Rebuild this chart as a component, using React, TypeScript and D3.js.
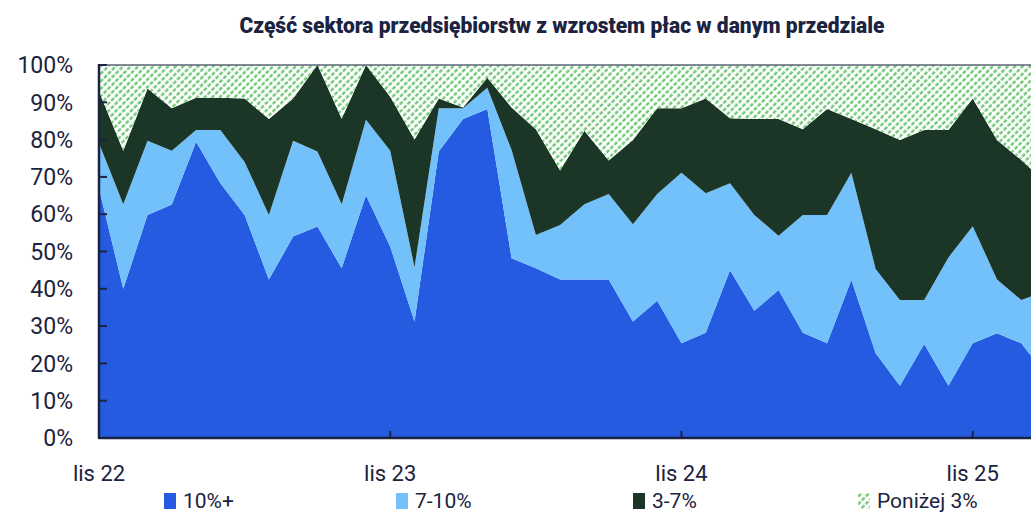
import { useEffect, useRef } from "react";
import * as d3 from "d3";

// Months, Nov 2022 - Feb 2026 (the last one is cut by the right edge)
const months = [
  "lis 22", "gru 22", "sty 23", "lut 23", "mar 23", "kwi 23", "maj 23", "cze 23", "lip 23", "sie 23", "wrz 23", "paź 23",
  "lis 23", "gru 23", "sty 24", "lut 24", "mar 24", "kwi 24", "maj 24", "cze 24", "lip 24", "sie 24", "wrz 24", "paź 24",
  "lis 24", "gru 24", "sty 25", "lut 25", "mar 25", "kwi 25", "maj 25", "cze 25", "lip 25", "sie 25", "wrz 25", "paź 25",
  "lis 25", "gru 25", "sty 26", "lut 26",
];

// Share of firms (%) in each wage-growth band
const above10 = [
  66.9, 40, 59.8, 62.6, 79.4, 68.3, 59.8, 42.5, 54, 56.7, 45.5, 65.1,
  51.3, 31.2, 76.8, 85.5, 88.2, 48.2, 45.5, 42.5, 42.5, 42.5, 31.2, 36.8,
  25.4, 28.2, 45, 34.1, 39.7, 28.2, 25.4, 42.4, 22.7, 14, 25.2, 14,
  25.4, 28.1, 25.4, 17,
];
const from7to10 = [
  12.1, 22.7, 19.9, 14.4, 3.2, 14.3, 14.2, 17.3, 25.7, 20.1, 17.2, 20.2,
  25.7, 14.6, 11.6, 2.9, 5.7, 29, 8.9, 14.6, 20.2, 22.9, 26.1, 28.6,
  45.7, 37.4, 23.3, 25.7, 14.5, 31.6, 34.4, 28.7, 22.6, 23, 11.8, 34.4,
  31.4, 14.4, 11.6, 22.3,
];
const from3to7 = [
  13.9, 14.3, 14, 11.4, 8.6, 8.6, 17, 25.7, 11.3, 23.3, 22.9, 14.7,
  14.5, 34.2, 2.6, 0.2, 2.7, 11.4, 28.4, 14.6, 19.7, 9, 22.6, 23,
  17.3, 25.4, 17.4, 25.7, 31.3, 23, 28.4, 14.4, 37.5, 42.9, 45.6, 34.2,
  34.2, 37.4, 37.5, 29.2,
];
const below3 = [
  7.1, 23, 6.3, 11.6, 8.8, 8.8, 9, 14.5, 9, 0, 14.4, 0,
  8.5, 20, 9, 11.4, 3.4, 11.4, 17.2, 28.3, 17.6, 25.6, 20.1, 11.6,
  11.6, 9, 14.3, 14.5, 14.5, 17.2, 11.8, 14.5, 17.2, 20.1, 17.4, 17.4,
  9, 20.1, 25.5, 31.5,
];

const seriesNames = ["10%+", "7-10%", "3-7%", "Poniżej 3%"];
const yTicks = [0, 10, 20, 30, 40, 50, 60, 70, 80, 90, 100];
const xTickLabels = ["lis 22", "lis 23", "lis 24", "lis 25"];

const W = 1031;
const H = 514;
const ink = "#1b2340";
const colors = ["#245be0", "#73c1fa", "#1b3626", "url(#hatch)"];

export default function App() {
  const svgRef = useRef<SVGSVGElement>(null);

  useEffect(() => {
    const svg = d3.select(svgRef.current);
    svg.selectAll("*").remove();

    const left = 99, top = 65, bottom = 438;
    const step = 24.27;

    const x = d3.scaleLinear().domain([0, months.length - 1]).range([left, left + step * (months.length - 1)]);
    const y = d3.scaleLinear().domain([0, 100]).range([bottom, top]);

    const rows = months.map((m, i) => ({
      i,
      "10%+": above10[i],
      "7-10%": from7to10[i],
      "3-7%": from3to7[i],
      "Poniżej 3%": below3[i],
    }));
    const stacked = d3.stack<any>().keys(seriesNames)(rows);

    // hatch pattern for the lowest band
    const defs = svg.append("defs");
    const pat = defs.append("pattern")
      .attr("id", "hatch")
      .attr("patternUnits", "userSpaceOnUse")
      .attr("width", 5.3)
      .attr("height", 5.6)
      .attr("patternTransform", "rotate(45)");
    pat.append("rect").attr("width", 5.3).attr("height", 5.6).attr("fill", "#fff");
    pat.append("line")
      .attr("x1", 1.5).attr("x2", 1.5).attr("y1", 0).attr("y2", 5.6)
      .attr("stroke", "#72c978")
      .attr("stroke-width", 2.4)
      .attr("stroke-dasharray", "4 1.6");

    const area = d3.area<any>()
      .x(d => x(d.data.i))
      .y0(d => y(d[0]))
      .y1(d => y(Math.min(100, d[1])));

    // the hatched band always fills up to 100%
    svg.append("g").selectAll("path")
      .data(stacked)
      .enter().append("path")
      .attr("d", (s, k) => k === 3
        ? d3.area<any>().x(d => x(d.data.i)).y0(d => y(d[0])).y1(y(100))(s)
        : area(s))
      .attr("fill", (s, k) => colors[k]);

    // top line
    svg.append("line")
      .attr("x1", left).attr("x2", W).attr("y1", top).attr("y2", top)
      .attr("stroke", "#5d6378").attr("stroke-width", 1.5);

    // y axis
    svg.append("line")
      .attr("x1", left).attr("x2", left).attr("y1", top - 1).attr("y2", bottom + 1)
      .attr("stroke", ink).attr("stroke-width", 2.5);
    const yg = svg.append("g");
    yg.selectAll("line").data(yTicks).enter().append("line")
      .attr("x1", left).attr("x2", left + 8)
      .attr("y1", d => y(d)).attr("y2", d => y(d))
      .attr("stroke", ink).attr("stroke-width", 2);
    yg.selectAll("text").data(yTicks).enter().append("text")
      .attr("x", 73).attr("y", d => y(d)).attr("dy", "0.36em")
      .attr("text-anchor", "end")
      .attr("font-family", "Roboto").attr("font-size", 23)
      .attr("fill", ink)
      .text(d => d + "%");

    // x axis
    svg.append("line")
      .attr("x1", left).attr("x2", W).attr("y1", bottom).attr("y2", bottom)
      .attr("stroke", ink).attr("stroke-width", 2.5);
    const xg = svg.append("g");
    const xTicks = xTickLabels.map(l => months.indexOf(l));
    xg.selectAll("line").data(xTicks).enter().append("line")
      .attr("x1", d => x(d)).attr("x2", d => x(d))
      .attr("y1", bottom).attr("y2", bottom - 7)
      .attr("stroke", ink).attr("stroke-width", 2);
    xg.selectAll("text").data(xTicks).enter().append("text")
      .attr("x", d => x(d)).attr("y", 481)
      .attr("text-anchor", "middle")
      .attr("font-family", "Roboto").attr("font-size", 22)
      .attr("fill", ink)
      .text(d => months[d]);

    // title
    svg.append("text")
      .attr("x", 562).attr("y", 33)
      .attr("text-anchor", "middle")
      .attr("font-family", "Roboto").attr("font-weight", 900).attr("font-size", 22)
      .attr("textLength", 645).attr("lengthAdjust", "spacingAndGlyphs")
      .attr("fill", ink)
      .text("Część sektora przedsiębiorstw z wzrostem płac w danym przedziale");

    // legend
    const legendX = [164, 396, 633, 858];
    const lg = svg.append("g").selectAll("g")
      .data(seriesNames)
      .enter().append("g")
      .attr("transform", (d, k) => `translate(${legendX[k]},0)`);
    lg.append("rect")
      .attr("x", 0).attr("y", 493).attr("width", 12).attr("height", 16)
      .attr("fill", (d, k) => colors[k]);
    lg.append("text")
      .attr("x", 19).attr("y", 508)
      .attr("font-family", "Roboto").attr("font-size", 21)
      .attr("fill", ink)
      .text(d => d);
  }, []);

  return (
    <svg
      ref={svgRef}
      width={W}
      height={H}
      style={{ position: "absolute", left: 0, top: 0, background: "#fff" }}
    />
  );
}
